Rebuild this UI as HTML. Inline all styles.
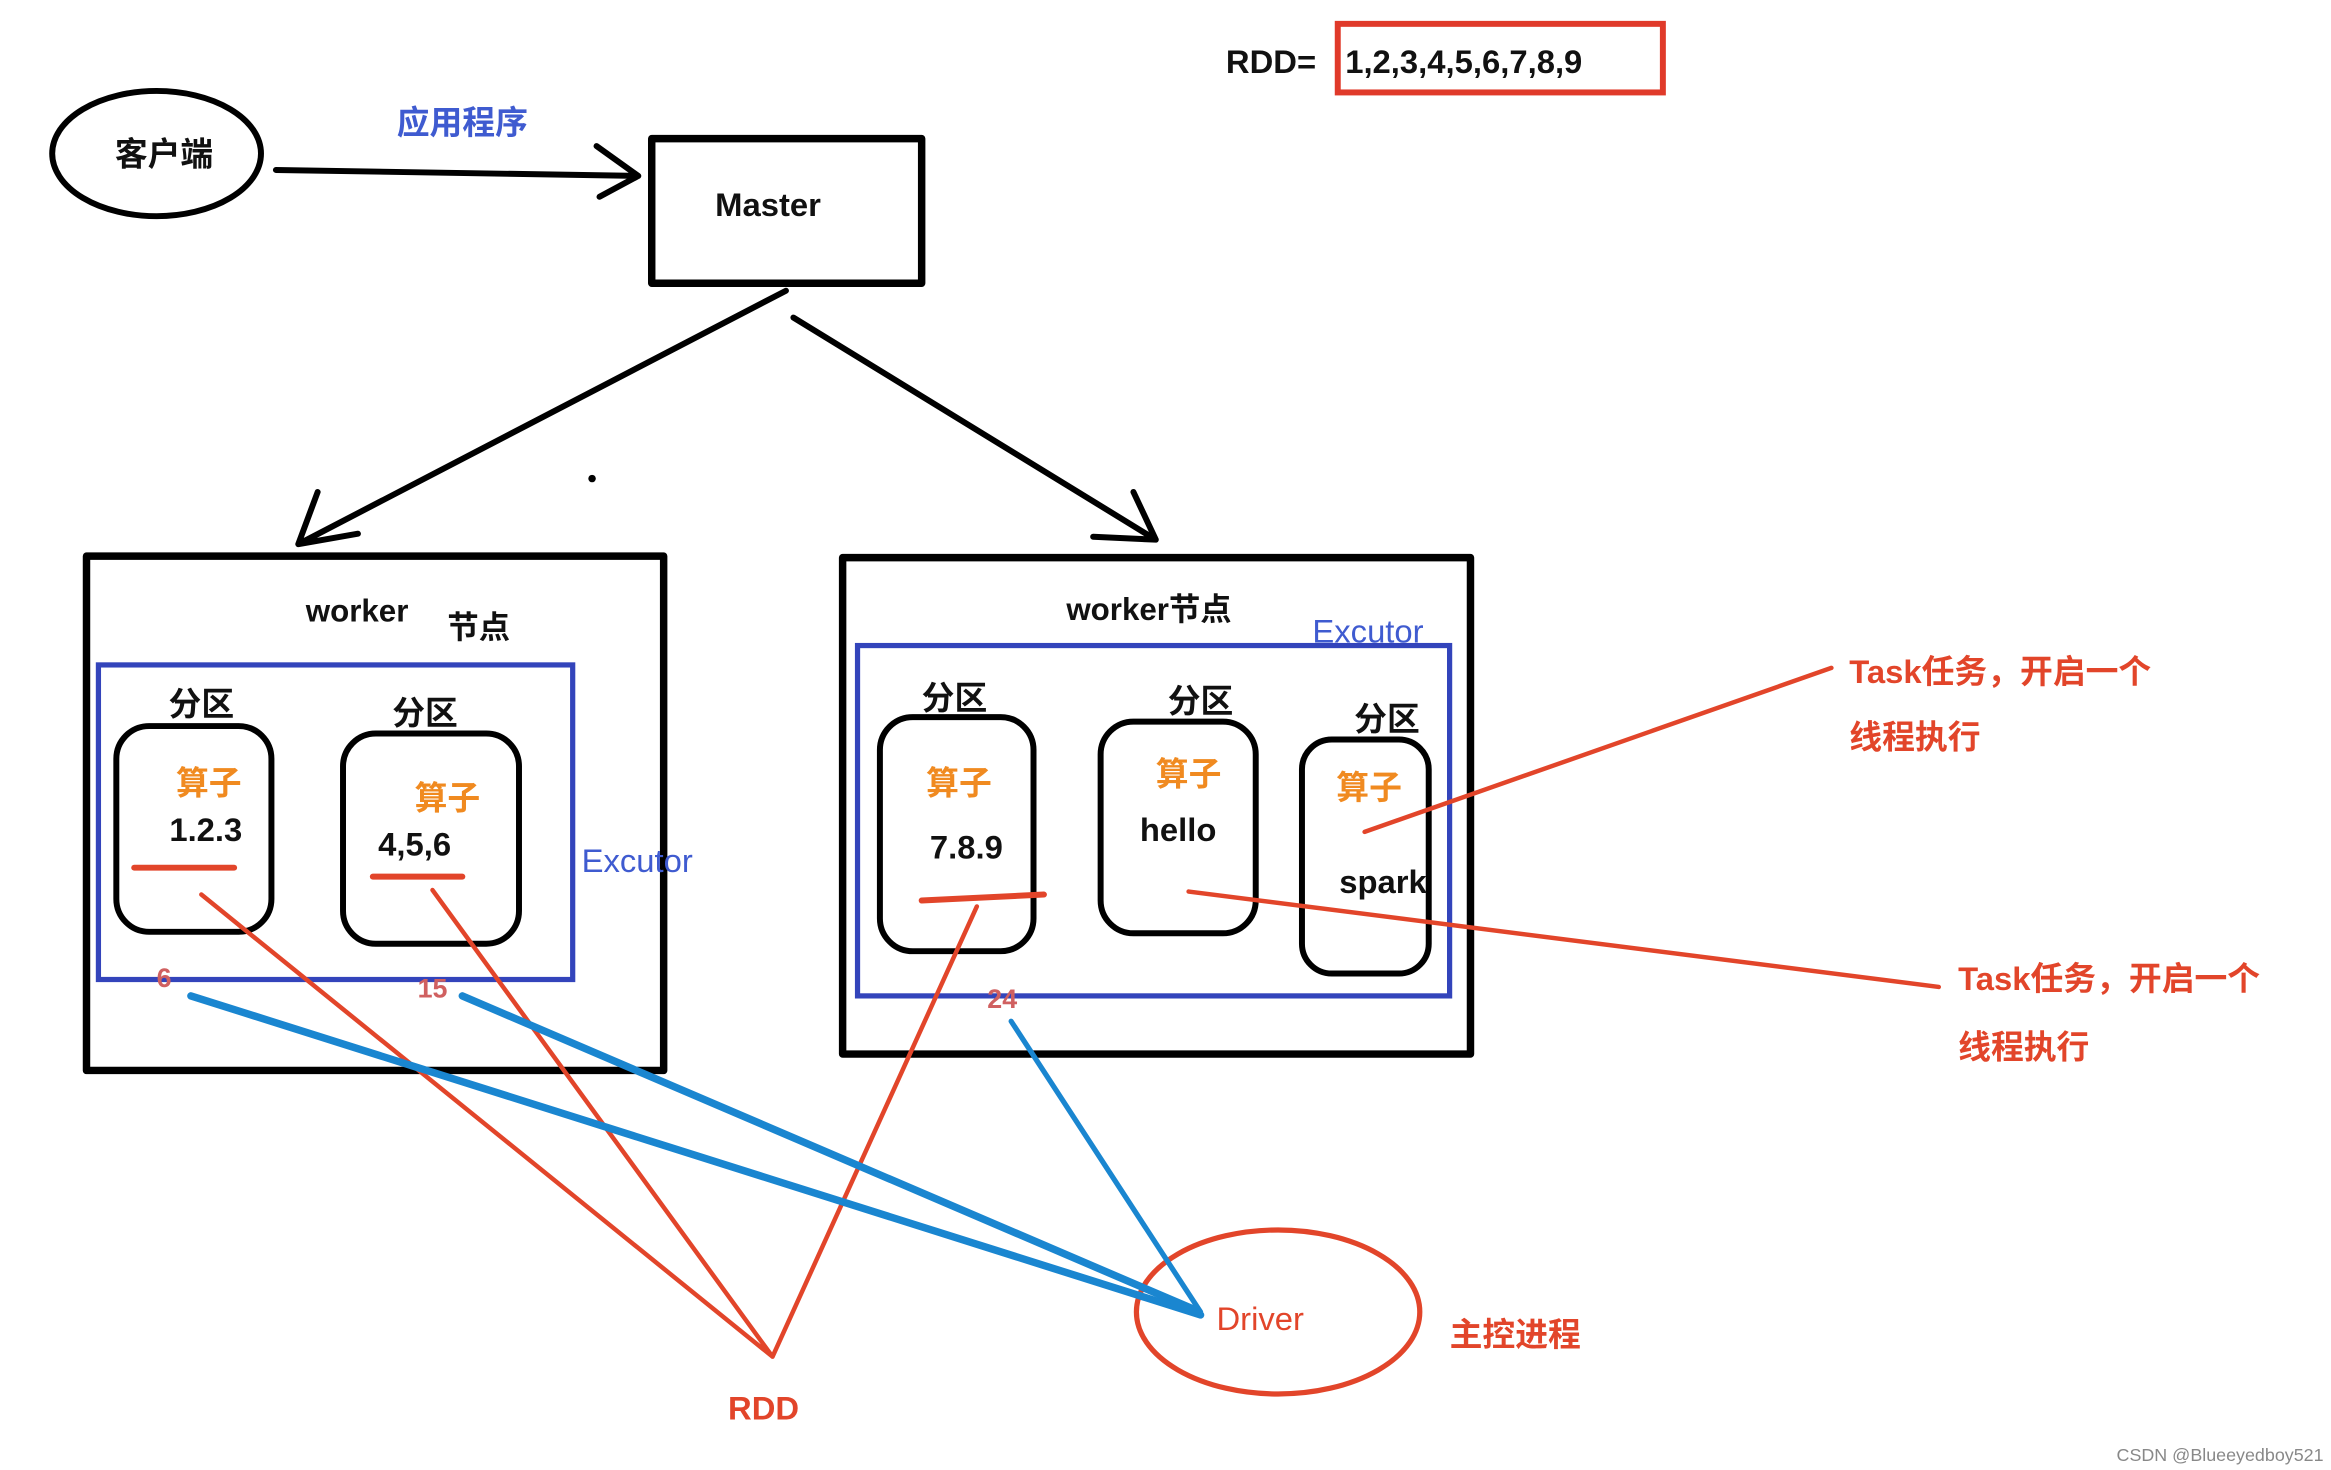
<!DOCTYPE html>
<html><head><meta charset="utf-8"><style>
html,body{margin:0;padding:0;background:#fff;}
svg{display:block;}
text{font-family:"Liberation Sans","Noto Sans CJK SC",sans-serif;font-weight:bold;}
</style></head><body>
<svg width="2331" height="1470" viewBox="0 0 1563 986" preserveAspectRatio="none" xmlns="http://www.w3.org/2000/svg">
<rect width="1563" height="986" fill="#fff"/>
<g fill="none" stroke="#000" stroke-width="4" stroke-linecap="round" stroke-linejoin="round">
<ellipse cx="105" cy="103" rx="70" ry="42"/>
<path d="M185 114 L428 118 M400 98 L428 118 L402 132"/>
<rect x="437" y="93" width="181" height="97" stroke-width="5"/>
<path d="M527 195 L200 365 M213 330 L200 365 L240 358"/>
<path d="M532 213 L775 362 M760 330 L775 362 L733 360"/>
<rect x="58" y="373" width="387" height="345" stroke-width="5"/>
<rect x="565" y="374" width="421" height="333" stroke-width="5"/>
<rect x="78" y="487" width="104" height="138" rx="22"/>
<rect x="230" y="492" width="118" height="141" rx="22"/>
<rect x="590" y="481" width="103" height="157" rx="22"/>
<rect x="738" y="484" width="104" height="142" rx="22"/>
<rect x="873" y="496" width="85" height="157" rx="20"/>
</g>
<circle cx="397" cy="321" r="2.5" fill="#000"/>
<rect x="66" y="446" width="318" height="211" fill="none" stroke="#3344bb" stroke-width="3.5"/>
<rect x="575" y="433" width="397" height="235" fill="none" stroke="#3344bb" stroke-width="3.5"/>
<rect x="897" y="16" width="218" height="46" fill="none" stroke="#e03a2a" stroke-width="4"/>
<g fill="none" stroke="#e2452a" stroke-width="3" stroke-linecap="round">
<path d="M90 582 L157 582" stroke-width="4"/>
<path d="M250 588 L310 588" stroke-width="4"/>
<path d="M618 604 L700 600" stroke-width="4"/>
<path d="M135 600 L518 910 M290 597 L518 910 M655 608 L518 910"/>
<path d="M915 558 L1228 448"/>
<path d="M797 598 L1300 662"/>
</g>
<ellipse cx="857" cy="880" rx="95" ry="55" fill="none" stroke="#e2452a" stroke-width="3.5"/>
<g fill="none" stroke="#1a86d0" stroke-linecap="round">
<path d="M128 668 L805 882" stroke-width="5"/>
<path d="M310 668 L800 878" stroke-width="5"/>
<path d="M678 685 L805 880" stroke-width="3.5"/>
</g>
<g font-size="22" fill="#111">
<text x="110" y="111" text-anchor="middle">客户端</text>
<text x="515" y="145" text-anchor="middle">Master</text>
<text x="822" y="49">RDD=</text>
<text x="902" y="49">1,2,3,4,5,6,7,8,9</text>
<text x="205" y="417" font-size="21">worker</text>
<text x="300" y="428" font-size="21">节点</text>
<text x="715" y="416" font-size="21">worker节点</text>
<text x="135" y="480" text-anchor="middle">分区</text>
<text x="285" y="486" text-anchor="middle">分区</text>
<text x="640" y="476" text-anchor="middle">分区</text>
<text x="805" y="478" text-anchor="middle">分区</text>
<text x="930" y="490" text-anchor="middle">分区</text>
<text x="138" y="564" text-anchor="middle">1.2.3</text>
<text x="278" y="574" text-anchor="middle">4,5,6</text>
<text x="648" y="576" text-anchor="middle">7.8.9</text>
<text x="790" y="564" text-anchor="middle">hello</text>
<text x="898" y="599">spark</text>
</g>
<g font-size="22" fill="#f08a20">
<text x="140" y="533" text-anchor="middle">算子</text>
<text x="300" y="543" text-anchor="middle">算子</text>
<text x="643" y="533" text-anchor="middle">算子</text>
<text x="797" y="527" text-anchor="middle">算子</text>
<text x="918" y="536" text-anchor="middle">算子</text>
</g>
<g font-size="22" fill="#3f5bd0" font-weight="normal">
<text x="310" y="90" text-anchor="middle" style="font-weight:bold">应用程序</text>
<text x="390" y="585" style="font-weight:normal">Excutor</text>
<text x="880" y="431" style="font-weight:normal">Excutor</text>
</g>
<g font-size="22" fill="#e2452a">
<text x="105" y="662" font-size="18" fill="#d06060">6</text>
<text x="280" y="669" font-size="18" fill="#d06060">15</text>
<text x="662" y="676" font-size="18" fill="#d06060">24</text>
<text x="1240" y="458">Task任务，开启一个</text>
<text x="1240" y="502">线程执行</text>
<text x="1313" y="664">Task任务，开启一个</text>
<text x="1313" y="710">线程执行</text>
<text x="845" y="892" text-anchor="middle" style="font-weight:normal">Driver</text>
<text x="972" y="903">主控进程</text>
<text x="512" y="952" text-anchor="middle">RDD</text>
</g>
<text x="1558" y="980" text-anchor="end" font-size="12" fill="#888" style="font-weight:normal">CSDN @Blueeyedboy521</text>
</svg>
</body></html>
